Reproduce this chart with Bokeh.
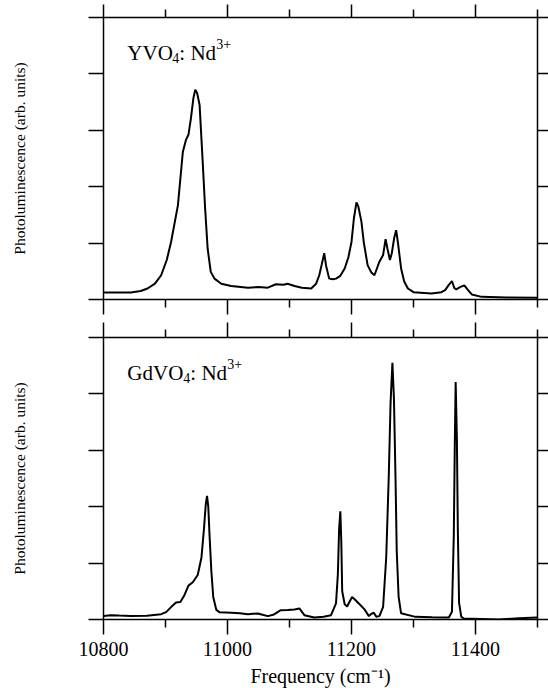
from bokeh.plotting import figure
from bokeh.models import Range1d, LinearAxis, FixedTicker, Label, CustomLabelingPolicy
from bokeh.layouts import column
from bokeh.embed import file_html
from bokeh.resources import INLINE

# ---------------- data ----------------
freq_yvo = [10800, 10844, 10860, 10871, 10883, 10893, 10902, 10909, 10920, 10928,
            10933, 10937, 10941, 10945, 10948, 10951, 10955, 10960, 10964, 10968,
            10973, 10979, 10990, 11006, 11033, 11050, 11065, 11078, 11090, 11097,
            11108, 11120, 11135, 11143, 11148, 11152, 11156, 11159, 11164, 11170,
            11175, 11182, 11189, 11195, 11200, 11204, 11208, 11211, 11216, 11220,
            11226, 11232, 11237, 11241, 11245, 11251, 11255, 11258, 11262, 11265,
            11269, 11272, 11275, 11280, 11285, 11291, 11300, 11329, 11345, 11351,
            11357, 11362, 11366, 11369, 11375, 11382, 11387, 11394, 11410, 11450,
            11500]
pl_yvo = [0.124, 0.124, 0.15, 0.195, 0.28, 0.43, 0.70, 1.02, 1.67, 2.62,
          2.83, 2.92, 3.21, 3.57, 3.72, 3.66, 3.45, 2.44, 1.6, 0.9,
          0.49, 0.37, 0.28, 0.24, 0.21, 0.22, 0.21, 0.27, 0.26, 0.28,
          0.24, 0.21, 0.195, 0.28, 0.43, 0.62, 0.82, 0.6, 0.37, 0.36,
          0.37, 0.42, 0.55, 0.75, 1.02, 1.45, 1.72, 1.65, 1.38, 1.0,
          0.61, 0.48, 0.43, 0.55, 0.67, 0.79, 1.07, 0.9, 0.70, 0.82,
          1.1, 1.23, 1.0, 0.55, 0.32, 0.195, 0.13, 0.106, 0.13, 0.166,
          0.26, 0.325, 0.2, 0.18, 0.22, 0.25, 0.18, 0.09, 0.047, 0.035,
          0.03]

freq_gdvo = [10800, 10812, 10825, 10844, 10870, 10893, 10901, 10909, 10917, 10924,
             10930, 10937, 10944, 10952, 10958, 10962, 10965, 10967, 10969, 10971,
             10974, 10977, 10982, 10987, 11006, 11020, 11033, 11049, 11058, 11065,
             11075, 11086, 11097, 11108, 11116, 11124, 11140, 11155, 11167, 11175,
             11178, 11180, 11182, 11183.5, 11185, 11189, 11193, 11197, 11201, 11205,
             11213, 11221, 11228, 11232, 11236, 11240, 11245, 11251, 11256, 11260,
             11263, 11266, 11268.5, 11271, 11273, 11276, 11280, 11303, 11330, 11357,
             11362, 11365, 11366.5, 11368, 11370, 11371.5, 11373.5, 11377, 11381, 11437,
             11470, 11500]
pl_gdvo = [0.06, 0.077, 0.07, 0.062, 0.065, 0.095, 0.13, 0.22, 0.30, 0.31,
           0.42, 0.60, 0.66, 0.79, 1.10, 1.60, 2.05, 2.19, 2.00, 1.50,
           0.85, 0.40, 0.17, 0.13, 0.12, 0.11, 0.095, 0.107, 0.08, 0.06,
           0.09, 0.166, 0.17, 0.178, 0.196, 0.077, 0.036, 0.05, 0.077, 0.285,
           0.8, 1.6, 1.92, 1.4, 0.5, 0.27, 0.23, 0.32, 0.40, 0.36,
           0.27, 0.18, 0.06, 0.10, 0.12, 0.05, 0.06, 0.225, 1.1, 2.5,
           3.84, 4.55, 3.9, 2.5, 1.2, 0.4, 0.11, 0.047, 0.04, 0.036,
           0.136, 1.5, 3.0, 4.21, 3.2, 1.6, 0.3, 0.05, 0.018, 0.0,
           0.02, 0.036]

x_major = [10800, 11000, 11200, 11400]
x_minor = [10900, 11100, 11300, 11500]
y_ticks = [0, 1, 2, 3, 4, 5]

x_title = "Frequency (cm\u207b\u00b9)"
y_title = "Photoluminescence (arb. units)"

FONT = "Liberation Serif"

HIDE_ALL = """
for (const i of indices) {
    indices.unset(i)
}
return indices
"""


def style_axis(ax, tick_out, minor_out=0, labels=False):
    ax.axis_line_color = "black"
    ax.axis_line_width = 1.5
    ax.major_tick_line_color = "black"
    ax.major_tick_line_width = 1.5
    ax.major_tick_in = 0
    ax.major_tick_out = tick_out
    ax.minor_tick_line_color = "black"
    ax.minor_tick_line_width = 1.5
    ax.minor_tick_in = 0
    ax.minor_tick_out = minor_out
    if not labels:
        ax.major_label_text_font_size = "1px"
        ax.major_label_standoff = 0
        ax.major_label_policy = CustomLabelingPolicy(code=HIDE_ALL)


def make_panel(freq, pl, top_border, top_tick, bottom_border, show_x_labels, parts):
    p = figure(frame_width=434, frame_height=282,
               x_range=Range1d(10800, 11500), y_range=Range1d(0, 5),
               x_axis_location=None, y_axis_location=None,
               output_backend="svg", toolbar_location=None,
               min_border_left=103, min_border_right=11,
               min_border_top=top_border, min_border_bottom=bottom_border)
    p.grid.visible = False
    p.outline_line_color = None
    p.background_fill_color = "white"
    p.border_fill_color = "white"

    xt = FixedTicker(ticks=x_major, minor_ticks=x_minor)
    yt = FixedTicker(ticks=y_ticks, minor_ticks=[])

    left = LinearAxis(ticker=yt, axis_label=y_title)
    style_axis(left, 15)
    left.axis_label_text_font = FONT
    left.axis_label_text_font_style = "normal"
    left.axis_label_text_font_size = "15.5px"
    left.axis_label_text_color = "black"
    left.axis_label_standoff = 57
    p.add_layout(left, "left")

    right = LinearAxis(ticker=yt)
    style_axis(right, 11)
    p.add_layout(right, "right")

    above = LinearAxis(ticker=xt)
    style_axis(above, top_tick, 8)
    p.add_layout(above, "above")

    below = LinearAxis(ticker=xt)
    if show_x_labels:
        style_axis(below, 15, 8, labels=True)
        below.major_label_text_font = FONT
        below.major_label_text_font_size = "20px"
        below.major_label_text_color = "black"
        below.major_label_standoff = 7
        below.axis_label = x_title
        below.axis_label_text_font = FONT
        below.axis_label_text_font_style = "normal"
        below.axis_label_text_font_size = "20px"
        below.axis_label_text_color = "black"
        below.axis_label_standoff = 6
    else:
        style_axis(below, 15, 8)
    p.add_layout(below, "below")

    p.line(freq, pl, line_color="black", line_width=2)

    for txt, xoff, yoff, size in parts:
        p.add_layout(Label(x=10838.5, y=4.37, x_offset=xoff, y_offset=yoff, text=txt,
                           text_font=FONT, text_font_size=size, text_color="black",
                           text_baseline="alphabetic", text_align="left"))
    return p


yvo_parts = [("YVO", 0, 0, "21px"), ("4", 45, -5, "14px"),
             (": Nd", 52, 0, "21px"), ("3+", 89, 9, "14px")]
gdvo_parts = [("GdVO", 0, 0, "21px"), ("4", 56, -5, "14px"),
              (": Nd", 63, 0, "21px"), ("3+", 100, 9, "14px")]

p1 = make_panel(freq_yvo, pl_yvo, 16, 13, 18, False, yvo_parts)
p2 = make_panel(freq_gdvo, pl_gdvo, 19, 15, 72, True, gdvo_parts)

layout = column(p1, p2, spacing=0)
open("out.html", "w").write(file_html(layout, INLINE))
